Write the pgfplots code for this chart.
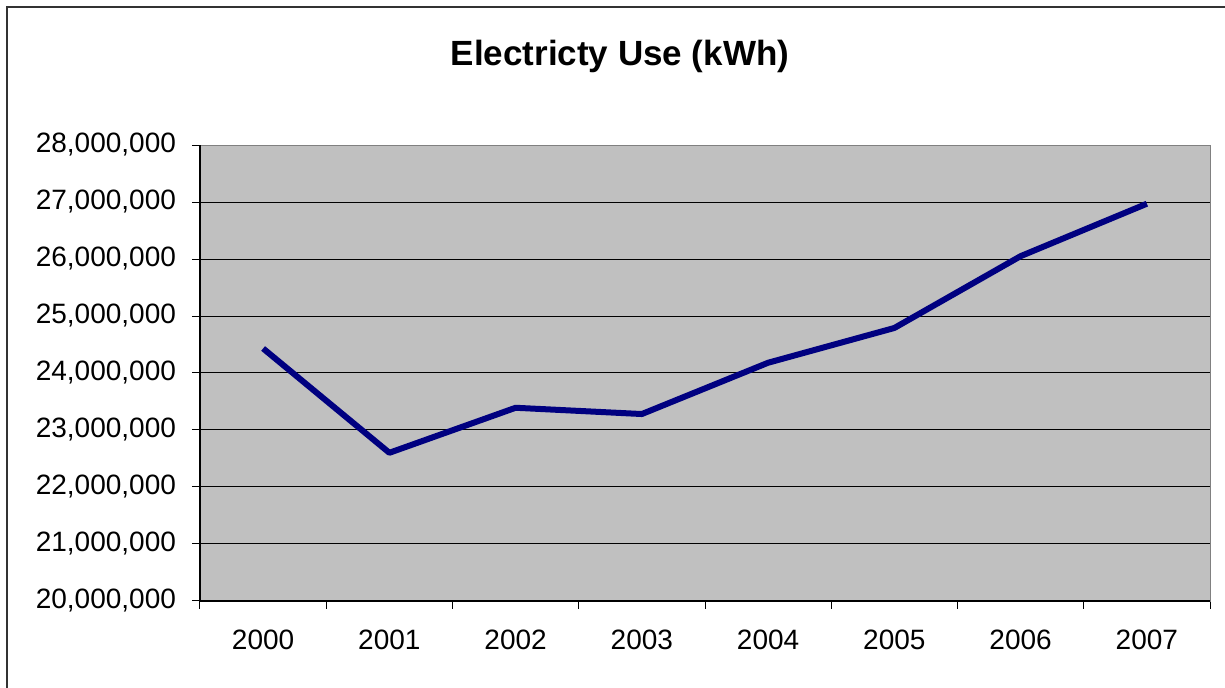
\documentclass[border=0pt]{standalone}
\usepackage{pgfplots}
\pgfplotsset{compat=1.18}
\usepackage{fontspec}
\setmainfont{Liberation Sans}
\definecolor{plotgray}{RGB}{192,192,192}
\definecolor{navyline}{RGB}{0,0,128}
\begin{document}
\begin{tikzpicture}
% picture is 1225 x 688 px at 0.5pt per px
\useasboundingbox (0,0) rectangle (612.5pt,344pt);
\draw[line width=1pt, black!80] (3.5pt,0pt) -- (3.5pt,340.5pt) -- (612.5pt,340.5pt);
\node[font=\bfseries\fontsize{17.5}{20}\selectfont] at (310pt,316pt) {Electricty Use (kWh)};
\begin{axis}[
    at={(100pt,43.5pt)}, anchor=south west,
    scale only axis,
    width=505pt, height=228pt,
    axis background/.style={fill=plotgray},
    axis line style={gray},
    xmin=-0.5, xmax=7.5,
    ymin=20000000, ymax=28000000,
    xtick={-0.5,0.5,...,7.5},
    xticklabels={},
    extra x ticks={0,1,...,7},
    extra x tick labels={2000,2001,2002,2003,2004,2005,2006,2007},
    extra x tick style={major tick length=0pt, grid=none,
        xticklabel style={yshift=-11pt}},
    ytick={20000000,21000000,...,28000000},
    scaled y ticks=false,
    yticklabel style={/pgf/number format/fixed, /pgf/number format/precision=0,
        /pgf/number format/1000 sep={,}, xshift=-4.5pt},
    /pgf/number format/assume math mode=true,
    tick label style={font=\fontsize{14}{16}\selectfont, black},
    tick align=outside,
    major tick length=4pt,
    tick style={black, line width=0.5pt},
    xtick pos=bottom, ytick pos=left,
    ymajorgrids,
    grid style={black, line width=0.5pt},
    clip=false,
    ]
\addplot[navyline, line width=3pt, line join=round] coordinates {
(0,24430000) (1,22600000) (2,23390000) (3,23280000)
(4,24180000) (5,24790000) (6,26050000) (7,26970000)
};
\draw[black, line width=0.6pt] (rel axis cs:0,1) -- (rel axis cs:0,0) -- (rel axis cs:1,0);
\end{axis}
\end{tikzpicture}
\end{document}
